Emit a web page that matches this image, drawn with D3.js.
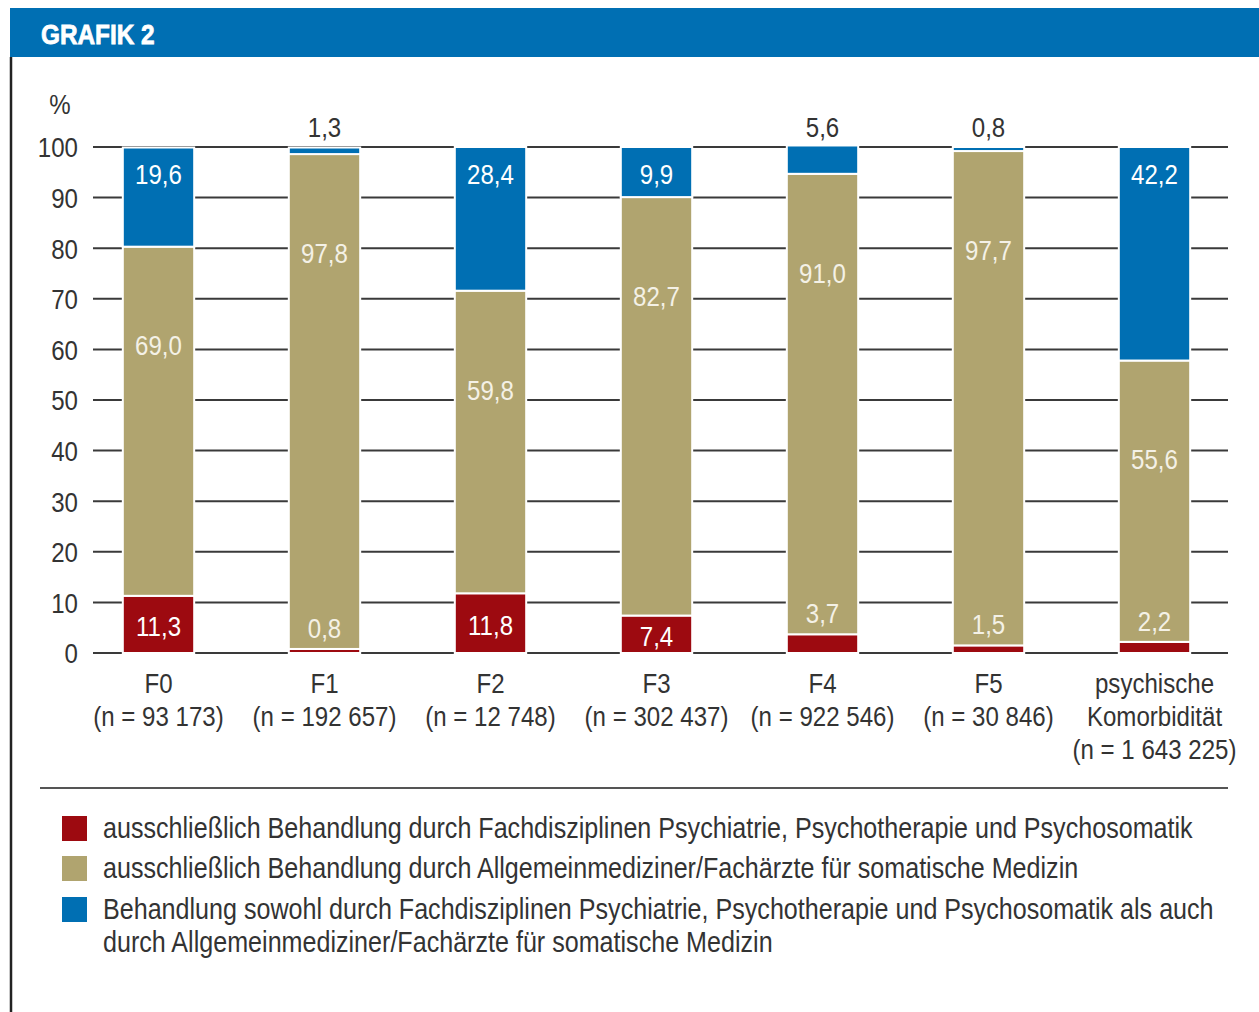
<!DOCTYPE html>
<html>
<head>
<meta charset="utf-8">
<script src="https://cdn.jsdelivr.net/npm/d3@7"></script>
<style>
  html, body { margin: 0; padding: 0; background: #fff; }
  svg { display: block; }
  text { font-family: "Liberation Sans", Arial, sans-serif; }
</style>
</head>
<body>
<svg id="chart" width="1259" height="1012"></svg>
<script>
// Daten
const categories = ['F0', 'F1', 'F2', 'F3', 'F4', 'F5', 'psychische Komorbidität'];
const nLabels = ['(n = 93 173)', '(n = 192 657)', '(n = 12 748)', '(n = 302 437)', '(n = 922 546)', '(n = 30 846)', '(n = 1 643 225)'];
const psychOnly = [11.3, 0.8, 11.8, 7.4, 3.7, 1.5, 2.2];
const somaOnly = [69.0, 97.8, 59.8, 82.7, 91.0, 97.7, 55.6];
const both = [19.6, 1.3, 28.4, 9.9, 5.6, 0.8, 42.2];
const yTicks = [0, 10, 20, 30, 40, 50, 60, 70, 80, 90, 100];
const legendLabels = [
  ['ausschließlich Behandlung durch Fachdisziplinen Psychiatrie, Psychotherapie und Psychosomatik'],
  ['ausschließlich Behandlung durch Allgemeinmediziner/Fachärzte für somatische Medizin'],
  ['Behandlung sowohl durch Fachdisziplinen Psychiatrie, Psychotherapie und Psychosomatik als auch',
   'durch Allgemeinmediziner/Fachärzte für somatische Medizin']
];

const COLORS = { red: '#9d0a10', tan: '#b0a46f', blue: '#006fb3' };
const TEXT = '#333333';
const SX = 0.86; // schmale Schrift nachbilden

const svg = d3.select('#chart');

// Text mit horizontaler Stauchung
function addText(parent, x, y, txt, size, fill, anchor) {
  return parent.append('text')
    .attr('transform', `translate(${x},${y}) scale(${SX},1)`)
    .attr('dy', '0.35em')
    .attr('font-size', size)
    .attr('fill', fill)
    .attr('text-anchor', anchor || 'middle')
    .text(txt);
}

// Kopfzeile
svg.append('rect').attr('x', 10).attr('y', 8).attr('width', 1249).attr('height', 49).attr('fill', COLORS.blue);
svg.append('text').attr('transform', 'translate(41,44) scale(0.87,1)')
  .attr('fill', '#fff').attr('font-size', 28).attr('font-weight', 700)
  .attr('stroke', '#fff').attr('stroke-width', 0.8)
  .text('GRAFIK 2');
svg.append('line').attr('x1', 11).attr('x2', 11).attr('y1', 57).attr('y2', 1012)
  .attr('stroke', '#222').attr('stroke-width', 2.5);

// Skalen
const x = d3.scaleBand().domain(categories).range([75.5, 1237.5]).paddingInner(0.57).paddingOuter(0.285);
const y = d3.scaleLinear().domain([0, 100]).range([653, 147]);

// Gitterlinien
svg.append('g').selectAll('line').data(yTicks).enter().append('line')
  .attr('x1', 93).attr('x2', 1228)
  .attr('y1', d => y(d)).attr('y2', d => y(d))
  .attr('stroke', '#3a3a3a').attr('stroke-width', 2);

// y-Achse Beschriftung
const yAxis = d3.axisLeft(y).tickValues(yTicks).tickSize(0).tickPadding(0);
const ya = svg.append('g').attr('transform', 'translate(78,0)').call(yAxis);
ya.select('.domain').remove();
ya.selectAll('text')
  .attr('x', 0).attr('dy', '0.35em')
  .attr('transform', `scale(${SX},1)`)
  .attr('font-size', 28).attr('fill', TEXT)
  .attr('font-family', '"Liberation Sans", Arial, sans-serif');
addText(svg, 60, 104, '%', 28, TEXT);

// Stapel
const rows = categories.map((c, i) => ({ cat: c, red: psychOnly[i], tan: somaOnly[i], blue: both[i] }));
const stack = d3.stack().keys(['red', 'tan', 'blue'])(rows);

svg.append('g').selectAll('g').data(stack).enter().append('g')
  .attr('fill', s => COLORS[s.key])
  .selectAll('rect').data(s => s).enter().append('rect')
  .attr('x', d => x(d.data.cat))
  .attr('width', x.bandwidth())
  .attr('y', d => y(d[1]))
  .attr('height', d => y(d[0]) - y(d[1]))
  .attr('stroke', '#fff').attr('stroke-width', 2);

// Wertelabels
const fmt = v => d3.format('.1f')(v).replace('.', ',');
const labels = svg.append('g');
const LIGHT = '#f4f1e6';
rows.forEach(r => {
  const cx = x(r.cat) + x.bandwidth() / 2;
  const redTop = y(r.red);
  const tanTop = y(r.red + r.tan);
  const blueTop = y(r.red + r.tan + r.blue);
  // rot
  if (r.red >= 5) {
    addText(labels, cx, (redTop + y(0)) / 2 + 2, fmt(r.red), 28, '#fff');
  } else {
    addText(labels, cx, redTop - 21, fmt(r.red), 28, LIGHT);
  }
  // beige
  addText(labels, cx, tanTop + 99, fmt(r.tan), 28, LIGHT);
  // blau
  if (r.blue >= 7) {
    addText(labels, cx, blueTop + 27, fmt(r.blue), 28, '#fff');
  } else {
    addText(labels, cx, y(100) - 20, fmt(r.blue), 28, TEXT);
  }
});

// Kategorien
const xl = svg.append('g');
categories.forEach((c, i) => {
  const cx = x(c) + x.bandwidth() / 2;
  const lines = c.split(' ').concat([nLabels[i]]);
  lines.forEach((t, j) => addText(xl, cx, 683 + j * 33, t, 28, TEXT));
});

// Trennlinie
svg.append('line').attr('x1', 40).attr('x2', 1228).attr('y1', 788).attr('y2', 788)
  .attr('stroke', '#555').attr('stroke-width', 2);

// Legende
const legColors = [COLORS.red, COLORS.tan, COLORS.blue];
const legY = [828, 868, 909];
const leg = svg.append('g');
legendLabels.forEach((ls, i) => {
  leg.append('rect').attr('x', 62).attr('y', legY[i] - 12).attr('width', 25).attr('height', 25).attr('fill', legColors[i]);
  ls.forEach((t, j) => addText(leg, 103, legY[i] + j * 33, t, 29.2, TEXT, 'start'));
});
</script>
</body>
</html>
